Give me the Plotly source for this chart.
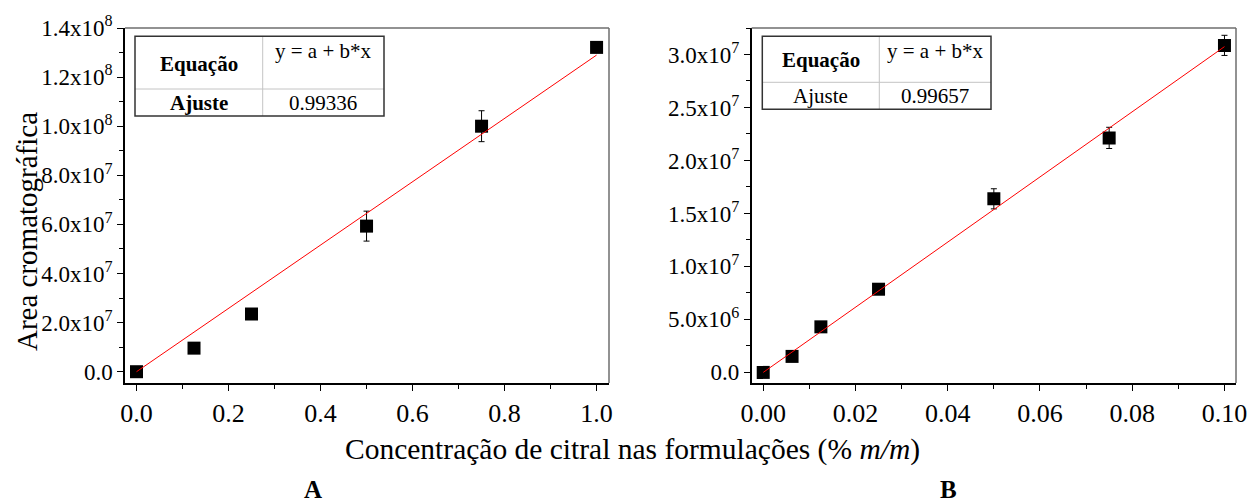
import numpy as np
import plotly.graph_objects as go

W, H = 1250, 502
FONT = "Liberation Serif, Times New Roman, serif"

# Panel A: calibration over 0-1 % m/m
conc_a = [0.0, 0.125, 0.25, 0.5, 0.75, 1.0]
area_a = [0.0, 9.6e6, 2.35e7, 5.93e7, 1.0e8, 1.321e8]
err_a = [0, 0, 0, 6.1e6, 6.3e6, 0]
fit_a = "0.99336"

# Panel B: calibration over 0-0.1 % m/m
conc_b = [0.0, 0.00625, 0.0125, 0.025, 0.05, 0.075, 0.1]
area_b = [0.0, 1.51e6, 4.30e6, 7.85e6, 1.638e7, 2.213e7, 3.086e7]
err_b = [0, 0, 0, 0, 9.5e5, 1.0e6, 9.5e5]
fit_b = "0.99657"

yticks_a = [0, 2e7, 4e7, 6e7, 8e7, 1e8, 1.2e8, 1.4e8]
yticks_b = [0, 5e6, 1e7, 1.5e7, 2e7, 2.5e7, 3e7]
xticks_a = [0.0, 0.2, 0.4, 0.6, 0.8, 1.0]
xticks_b = [0.00, 0.02, 0.04, 0.06, 0.08, 0.10]


def sci(v):
    if v == 0:
        return "0.0"
    e = int(np.floor(np.log10(abs(v))))
    m = v / 10 ** e
    return f"{m:.1f}x10<sup>{e}</sup>"


def origin_fit(x, y):
    x = np.asarray(x)
    y = np.asarray(y)
    return float((x * y).sum() / (x * x).sum())


def px(x):
    return x / W


def py(y):
    return 1 - y / H


def font(size):
    return dict(family=FONT, size=size, color="black")


fig = go.Figure()

panels = [
    dict(x=conc_a, y=area_a, e=err_a, xa="x", ya="y"),
    dict(x=conc_b, y=area_b, e=err_b, xa="x2", ya="y2"),
]
for p in panels:
    b = origin_fit(p["x"], p["y"])
    xl = [0.0, max(p["x"])]
    fig.add_trace(go.Scatter(
        x=p["x"], y=p["y"], mode="markers",
        marker=dict(symbol="square", size=13, color="black", line=dict(width=0)),
        error_y=dict(type="data", array=p["e"], visible=True, color="black",
                     thickness=1, width=3),
        xaxis=p["xa"], yaxis=p["ya"], showlegend=False,
    ))
    fig.add_trace(go.Scatter(
        x=xl, y=[b * v for v in xl], mode="lines",
        line=dict(color="red", width=1),
        xaxis=p["xa"], yaxis=p["ya"], showlegend=False,
    ))

axis_common = dict(
    showline=True, linecolor="black", linewidth=1.5, mirror=False,
    showgrid=False, zeroline=False, ticks="outside", ticklen=6,
    tickwidth=1, tickcolor="black", automargin=False,
)

fig.update_layout(
    width=W, height=H,
    margin=dict(l=0, r=0, t=0, b=0, pad=0, autoexpand=False),
    paper_bgcolor="white", plot_bgcolor="white",
    font=font(20),
    xaxis=dict(domain=[px(125), px(609)], range=[-0.025, 1.027],
               tickvals=xticks_a, ticktext=[f"{v:.1f}" for v in xticks_a],
               tickfont=font(26),
               minor=dict(ticks="outside", ticklen=4, dtick=0.1, tickcolor="black"),
               anchor="y", **axis_common),
    yaxis=dict(domain=[py(383), py(28)], range=[-4.6e6, 1.4e8],
               tickvals=yticks_a, ticktext=[sci(v) for v in yticks_a],
               tickfont=font(23),
               minor=dict(ticks="outside", ticklen=4, dtick=1e7, tickcolor="black"),
               anchor="x", **axis_common),
    xaxis2=dict(domain=[px(751.7), px(1236)], range=[-0.0025, 0.1025],
                tickvals=xticks_b, ticktext=[f"{v:.2f}" for v in xticks_b],
                tickfont=font(26),
                minor=dict(ticks="outside", ticklen=4, dtick=0.01, tickcolor="black"),
                anchor="y2", **axis_common),
    yaxis2=dict(domain=[py(383), py(28)], range=[-1.0e6, 3.25e7],
                tickvals=yticks_b, ticktext=[sci(v) for v in yticks_b],
                tickfont=font(23),
                minor=dict(ticks="outside", ticklen=4, dtick=2.5e6, tickcolor="black"),
                anchor="x2", **axis_common),
)

shapes = []
annotations = []

# grey top/right frame edges
for (l, r) in [(125, 609), (751.7, 1236)]:
    shapes.append(dict(type="line", xref="paper", yref="paper",
                       x0=px(l), x1=px(r), y0=py(28), y1=py(28),
                       line=dict(color="#6e6e6e", width=1.5)))
    shapes.append(dict(type="line", xref="paper", yref="paper",
                       x0=px(r), x1=px(r), y0=py(28), y1=py(383),
                       line=dict(color="#6e6e6e", width=1.5)))

# fit-summary tables
tables = [
    dict(l=135, r=384, t=36.3, b=116, c=262.7, m=89, val=fit_a, bold_adj=True),
    dict(l=762.3, r=991, t=36.3, b=109.3, c=879.3, m=82.3, val=fit_b, bold_adj=False),
]
for t in tables:
    shapes.append(dict(type="line", xref="paper", yref="paper",
                       x0=px(t["c"]), x1=px(t["c"]), y0=py(t["t"]), y1=py(t["b"]),
                       line=dict(color="#c4c4c4", width=1)))
    shapes.append(dict(type="line", xref="paper", yref="paper",
                       x0=px(t["l"]), x1=px(t["r"]), y0=py(t["m"]), y1=py(t["m"]),
                       line=dict(color="#c4c4c4", width=1)))
    shapes.append(dict(type="rect", xref="paper", yref="paper",
                       x0=px(t["l"]), x1=px(t["r"]), y0=py(t["t"]), y1=py(t["b"]),
                       line=dict(color="#333333", width=1.5)))
    c1 = (t["l"] + t["c"]) / 2
    c2 = (t["c"] + t["r"]) / 2
    r2 = (t["m"] + t["b"]) / 2
    annotations += [
        dict(text="<b>Equação</b>", x=px(c1), y=py((t["t"] + t["m"]) / 2 + 1)),
        dict(text="y = a + b*x", x=px(c2), y=py(t["t"] + 15)),
        dict(text="<b>Ajuste</b>" if t["bold_adj"] else "Ajuste", x=px(c1), y=py(r2)),
        dict(text=t["val"], x=px(c2), y=py(r2)),
    ]

for a in annotations:
    a.update(xref="paper", yref="paper", showarrow=False,
             xanchor="center", yanchor="middle", font=font(21))

annotations += [
    dict(text="Area cromatográfica", x=px(27), y=py(232), textangle=-90,
         xref="paper", yref="paper", showarrow=False,
         xanchor="center", yanchor="middle", font=font(29)),
    dict(text="Concentração de citral nas formulações (% <i>m/m</i>)",
         x=px(632), y=py(449), xref="paper", yref="paper", showarrow=False,
         xanchor="center", yanchor="middle", font=font(29.5)),
    dict(text="<b>A</b>", x=px(313), y=py(489), xref="paper", yref="paper",
         showarrow=False, xanchor="center", yanchor="middle", font=font(25)),
    dict(text="<b>B</b>", x=px(948), y=py(489), xref="paper", yref="paper",
         showarrow=False, xanchor="center", yanchor="middle", font=font(25)),
]

fig.update_layout(shapes=shapes, annotations=annotations)
fig.write_html("out.html")
